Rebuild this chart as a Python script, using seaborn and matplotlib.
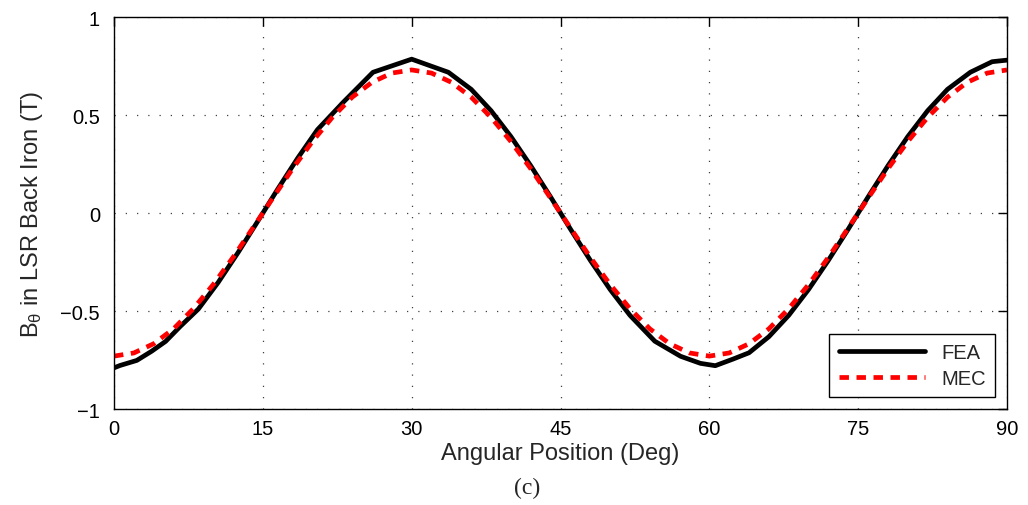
import numpy as np
import pandas as pd
import matplotlib
matplotlib.use("Agg")
import matplotlib.pyplot as plt
import seaborn as sns

# Angular samples (deg) and tangential flux density (T) in the LSR back iron
fea_angle = [0, 0.6, 2.3, 3.8, 5.2, 6.65, 8.5, 10.5, 12.5, 14.5, 16.5, 18.5, 20.5,
             23.1, 26.1, 30, 33.7, 36, 38, 40, 42, 44, 46, 48, 50, 52, 54.5, 57.1,
             59.1, 60.6, 62.4, 64, 66, 68, 70, 72, 74, 76, 78, 80, 82, 84, 86.3,
             88.5, 90]
fea_b = [-0.79, -0.778, -0.752, -0.705, -0.655, -0.58, -0.49, -0.354, -0.202,
         -0.041, 0.122, 0.279, 0.425, 0.565, 0.718, 0.785, 0.718, 0.631, 0.522,
         0.39, 0.241, 0.082, -0.082, -0.241, -0.39, -0.522, -0.654, -0.731,
         -0.767, -0.779, -0.745, -0.713, -0.631, -0.522, -0.39, -0.241, -0.082,
         0.082, 0.241, 0.39, 0.522, 0.631, 0.718, 0.772, 0.78]

mec_angle = [0, 2, 4, 6, 8, 10, 12, 14, 16, 18, 20, 22, 24, 26, 28, 30, 32, 34,
             36, 38, 40, 42, 44, 46, 48, 50, 52, 54, 56, 58, 60, 62, 64, 66, 68,
             70, 72, 74, 76, 78, 80, 82, 84, 86, 88, 90]
mec_b = [-0.730, -0.714, -0.667, -0.591, -0.488, -0.365, -0.226, -0.076, 0.076,
         0.226, 0.365, 0.488, 0.591, 0.667, 0.714, 0.730, 0.714, 0.667, 0.591,
         0.488, 0.365, 0.226, 0.076, -0.076, -0.226, -0.365, -0.488, -0.591,
         -0.667, -0.714, -0.730, -0.714, -0.667, -0.591, -0.488, -0.365, -0.226,
         -0.076, 0.076, 0.226, 0.365, 0.488, 0.591, 0.667, 0.714, 0.730]

x_ticks = [0, 15, 30, 45, 60, 75, 90]
y_ticks = [-1, -0.5, 0, 0.5, 1]
y_tick_labels = ["\u22121", "\u22120.5", "0", "0.5", "1"]

sns.set_style("white")
plt.rcParams["font.family"] = ["Liberation Sans", "DejaVu Sans"]
plt.rcParams["mathtext.fontset"] = "custom"
plt.rcParams["mathtext.rm"] = "Liberation Sans"
plt.rcParams["mathtext.it"] = "Liberation Sans"

fea = pd.DataFrame({"angle": fea_angle, "B": fea_b})
mec = pd.DataFrame({"angle": mec_angle, "B": mec_b})

fig = plt.figure(figsize=(10.28, 5.06), dpi=100)
ax = fig.add_axes([0.1109, 0.1897, 0.8687, 0.7747])

sns.lineplot(data=fea, x="angle", y="B", ax=ax, color="black", linewidth=3.4,
             sort=False, estimator=None, label="FEA")
sns.lineplot(data=mec, x="angle", y="B", ax=ax, color="red", linewidth=3.4,
             sort=False, estimator=None, label="MEC", dashes=False)
ax.lines[1].set_dashes((2.0, 1.6))

ax.set_xlim(0, 90)
ax.set_ylim(-1, 1)
ax.set_xticks(x_ticks)
ax.set_yticks(y_ticks)
ax.set_yticklabels(y_tick_labels)

ax.grid(True, linestyle=(0, (1, 8)), color="0.25", linewidth=0.9)
ax.set_axisbelow(True)
for s in ax.spines.values():
    s.set_visible(True)
    s.set_color("black")
    s.set_linewidth(1.0)

ax.tick_params(axis="both", which="both", direction="in", length=6.5, width=1.0,
               top=True, right=True, labelsize=14.5, colors="black")
ax.tick_params(axis="y", pad=10)
ax.tick_params(axis="x", pad=7)

ax.set_xlabel("Angular Position (Deg)", fontsize=17, labelpad=3)
ax.set_ylabel(r"B$_{\theta}$ in LSR Back Iron (T)", fontsize=17, labelpad=11)

leg = ax.legend(loc="lower right", fontsize=14.5, frameon=True, fancybox=False,
                edgecolor="black", framealpha=1, handlelength=4.3,
                borderaxespad=0.6, borderpad=0.45, labelspacing=0.35)
leg.get_frame().set_linewidth(1.0)

fig.text(0.513, 0.035, "(c)", fontsize=17, family="Liberation Serif",
         ha="center", va="center")

fig.savefig("out.png", dpi=100)
